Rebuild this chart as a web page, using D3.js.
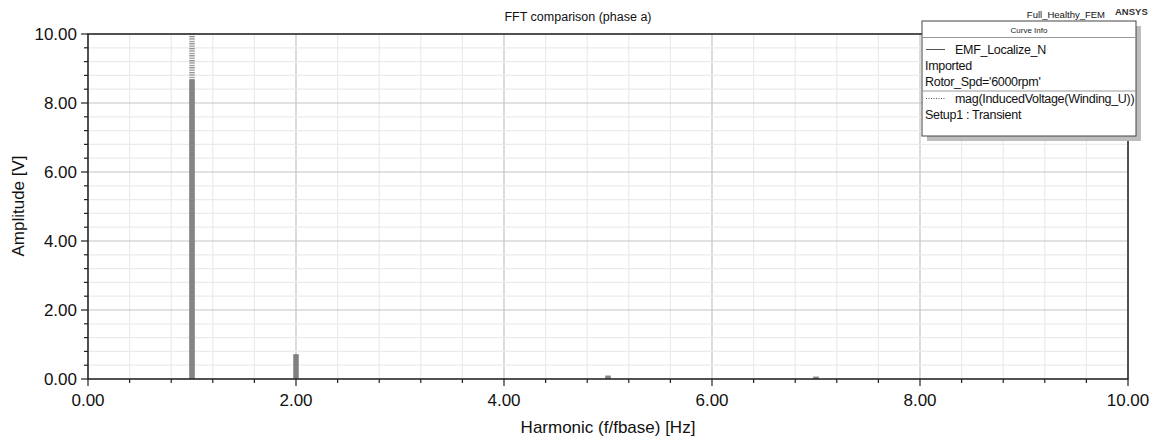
<!DOCTYPE html>
<html><head><meta charset="utf-8">
<script src="https://cdn.jsdelivr.net/npm/d3@7"></script>
<style>body{margin:0;background:#fff;} text{font-family:"Liberation Sans",Arial,sans-serif;}</style>
</head><body>
<svg id="c" width="1156" height="441"></svg>
<script>
// Data
const harmonics = [1, 2, 4, 5, 7];
const emfLocalize = [8.67, 0.72, 0.01, 0.10, 0.07];       // solid series
const magInduced  = [10.4, 0.0, 0.0, 0.05, 0.04];          // dotted series (clipped at 10)
const xTicks = [0, 2, 4, 6, 8, 10];
const yTicks = [0, 2, 4, 6, 8, 10];
const legendRows = [
  {type:"solid", lines:["EMF_Localize_N","Imported","Rotor_Spd='6000rpm'"]},
  {type:"dotted", lines:["mag(InducedVoltage(Winding_U))","Setup1 : Transient"]}
];

const svg = d3.select("#c");
const m = {l:88, r:1128, t:34, b:379};
const x = d3.scaleLinear().domain([0,10]).range([m.l, m.r]);
const y = d3.scaleLinear().domain([0,10]).range([m.b, m.t]);

const minorVals = d3.range(0, 10.001, 0.4).map(v => +v.toFixed(2));

// defs
const defs = svg.append("defs");
defs.append("clipPath").attr("id","clip").append("rect")
  .attr("x", m.l).attr("y", m.t).attr("width", m.r-m.l).attr("height", m.b-m.t);
const pat = defs.append("pattern").attr("id","stripes").attr("patternUnits","userSpaceOnUse")
  .attr("width", 6).attr("height", 2.4);
pat.append("rect").attr("width",6).attr("height",1.2).attr("fill","#8a8a8a");

// grid
const g = svg.append("g");
g.selectAll(".vminor").data(minorVals).join("line")
  .attr("x1", d=>x(d)).attr("x2", d=>x(d)).attr("y1", m.t).attr("y2", m.b)
  .attr("stroke", d => (Math.abs(d/2 - Math.round(d/2))<1e-6) ? "#c4c4c4" : "#ebebeb").attr("stroke-width",1.2);
g.selectAll(".hminor").data(minorVals).join("line")
  .attr("y1", d=>y(d)).attr("y2", d=>y(d)).attr("x1", m.l).attr("x2", m.r)
  .attr("stroke", d => (Math.abs(d/2 - Math.round(d/2))<1e-6) ? "#c4c4c4" : "#ebebeb").attr("stroke-width",1.2);

// bars
const plot = svg.append("g").attr("clip-path","url(#clip)");
const bw = 5.5;
plot.selectAll(".solid").data(harmonics.map((h,i)=>({h, v:emfLocalize[i]}))).join("rect")
  .attr("x", d => x(d.h) - bw/2).attr("width", bw)
  .attr("y", d => y(d.v)).attr("height", d => y(0) - y(d.v))
  .attr("fill", "#808080");
plot.selectAll(".dotted").data(harmonics.map((h,i)=>({h, v:magInduced[i]}))).join("rect")
  .attr("x", d => x(d.h) - bw/2).attr("width", bw)
  .attr("y", d => y(d.v)).attr("height", d => Math.max(0, y(0) - y(d.v)))
  .attr("fill", "url(#stripes)");

// axes frame
svg.append("rect").attr("x", m.l).attr("y", m.t).attr("width", m.r-m.l).attr("height", m.b-m.t)
  .attr("fill","none").attr("stroke","#222").attr("stroke-width",1.5);

// ticks
const tk = svg.append("g").attr("stroke","#222").attr("stroke-width",1.2);
minorVals.forEach(v => {
  const major = Math.abs(v/2 - Math.round(v/2))<1e-6;
  tk.append("line").attr("x1", x(v)).attr("x2", x(v)).attr("y1", m.b).attr("y2", m.b + (major?7:4));
  tk.append("line").attr("y1", y(v)).attr("y2", y(v)).attr("x1", m.l).attr("x2", m.l - (major?7:4));
});

// tick labels
svg.selectAll(".xl").data(xTicks).join("text")
  .attr("x", d=>x(d)).attr("y", 406).attr("text-anchor","middle")
  .attr("font-size", 17).attr("fill","#111").text(d => d.toFixed(2));
svg.selectAll(".yl").data(yTicks).join("text")
  .attr("x", 77).attr("y", d=>y(d)+6).attr("text-anchor","end")
  .attr("font-size", 17).attr("fill","#111").text(d => d.toFixed(2));

// titles
svg.append("text").attr("x", 578).attr("y", 21).attr("text-anchor","middle")
  .attr("font-size", 12.5).attr("fill","#111").text("FFT comparison (phase a)");
svg.append("text").attr("x", 608).attr("y", 433).attr("text-anchor","middle")
  .attr("font-size", 17).attr("fill","#111").text("Harmonic (f/fbase) [Hz]");
svg.append("text").attr("transform","translate(24,206) rotate(-90)").attr("text-anchor","middle")
  .attr("font-size", 17).attr("fill","#111").text("Amplitude [V]");
svg.append("text").attr("x", 1105).attr("y", 18).attr("text-anchor","end")
  .attr("font-size", 9.5).attr("fill","#111").text("Full_Healthy_FEM");
svg.append("text").attr("x", 1115).attr("y", 15).attr("font-size", 9.5).attr("font-weight","bold")
  .attr("fill","#333").text("ANSYS");

// legend
const L = {x:922, y:21, w:214, h:115};
svg.append("rect").attr("x", L.x+5).attr("y", L.y+5).attr("width", L.w).attr("height", L.h).attr("fill","#bdbdbd");
svg.append("rect").attr("x", L.x).attr("y", L.y).attr("width", L.w).attr("height", L.h)
  .attr("fill","#fff").attr("stroke","#444").attr("stroke-width",1);
svg.append("text").attr("x", L.x + L.w/2).attr("y", L.y+12).attr("text-anchor","middle")
  .attr("font-size", 8).attr("fill","#222").text("Curve Info");
svg.append("line").attr("x1", L.x).attr("x2", L.x+L.w).attr("y1", L.y+16.5).attr("y2", L.y+16.5)
  .attr("stroke","#999");
let yy = L.y + 33;
legendRows.forEach((row, ri) => {
  row.lines.forEach((t, li) => {
    if (li === 0) {
      svg.append("line").attr("x1", L.x+4).attr("x2", L.x+23).attr("y1", yy-4.5).attr("y2", yy-4.5)
        .attr("stroke","#555").attr("stroke-width",1)
        .attr("stroke-dasharray", row.type==="dotted" ? "1,1.5" : null);
    }
    svg.append("text").attr("x", li===0 ? L.x+33 : L.x+3).attr("y", yy)
      .attr("font-size", 12.5).attr("fill","#111").attr("letter-spacing", -0.3).text(t);
    yy += 16;
  });
  if (ri === 0) {
    svg.append("line").attr("x1", L.x).attr("x2", L.x+L.w).attr("y1", yy-11).attr("y2", yy-11).attr("stroke","#999");
    yy += 1;
  }
});
</script>
</body></html>
